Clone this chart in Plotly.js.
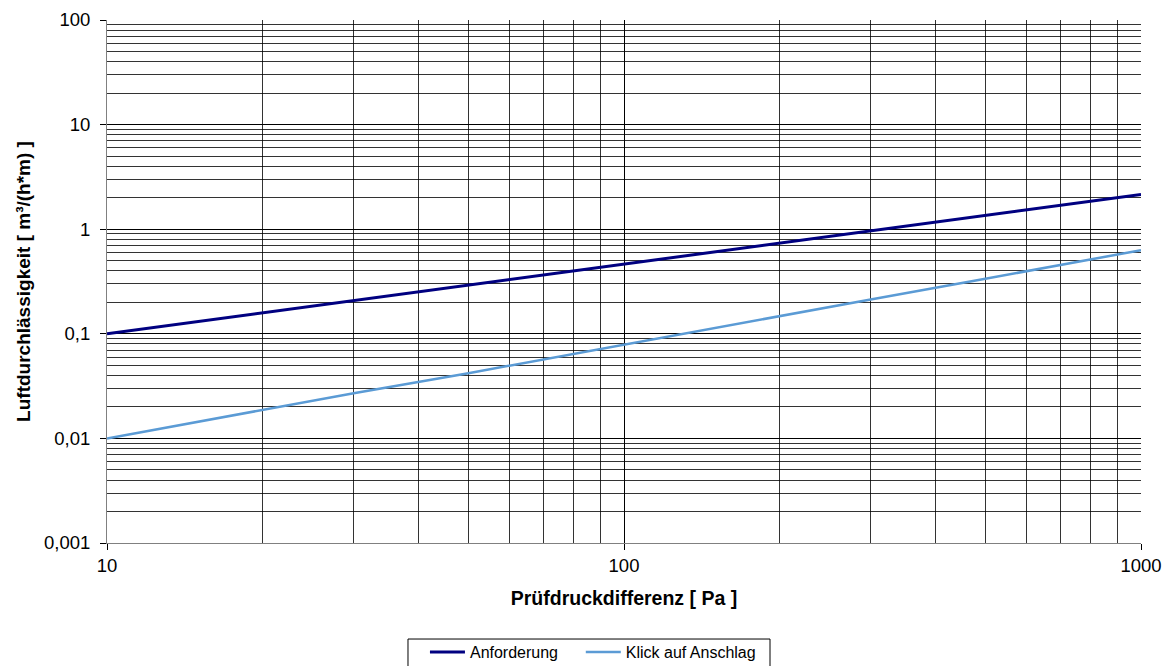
<!DOCTYPE html>
<html>
<head>
<meta charset="utf-8">
<script src="https://cdn.plot.ly/plotly-3.0.1.min.js"></script>
<style>html,body{margin:0;padding:0;background:#fff;}#chart{width:1168px;height:666px;}</style>
</head>
<body>
<div id="chart"></div>
<script>
const pressure = [10, 20, 30, 50, 100, 200, 300, 500, 1000];
const anforderung = [0.1, 0.159, 0.208, 0.292, 0.464, 0.737, 0.965, 1.36, 2.15];
const klick = [0.01, 0.0187, 0.027, 0.042, 0.079, 0.148, 0.213, 0.336, 0.63];
const seriesNames = ['Anforderung', 'Klick auf Anschlag'];
const yTickVals = [0.001, 0.01, 0.1, 1, 10, 100];
const yTickText = ['0,001', '0,01', '0,1', '1', '10', '100'];
const xTickVals = [10, 100, 1000];
const xTickText = ['10', '100', '1000'];

const fam = 'Liberation Sans, Arial, sans-serif';
const pad = '\u00a0\u00a0\u00a0\u00a0';

const traces = [
  {x: pressure, y: anforderung, type: 'scatter', mode: 'lines', name: seriesNames[0] + pad,
   line: {color: '#000080', width: 3}},
  {x: pressure, y: klick, type: 'scatter', mode: 'lines', name: seriesNames[1],
   line: {color: '#5b9bd5', width: 2.5}}
];

const layout = {
  width: 1168, height: 666,
  margin: {l: 107, r: 27, t: 20, b: 123, autoexpand: false},
  paper_bgcolor: '#fff', plot_bgcolor: '#fff',
  font: {family: fam, size: 17, color: '#000'},
  separators: ',.',
  showlegend: true,
  legend: {orientation: 'h', xref: 'paper', x: 0.3075, xanchor: 'left',
           yref: 'container', y: 0.0465, yanchor: 'top',
           borderwidth: 0, bgcolor: 'rgba(0,0,0,0)', font: {family: fam, size: 16, color: '#000'},
           traceorder: 'normal', itemwidth: 35},
  shapes: [{type: 'rect', xref: 'paper', yref: 'paper', x0: 0.2911, x1: 0.6412, y0: -0.262, y1: -0.1836,
            line: {color: '#000', width: 1}, fillcolor: 'rgba(0,0,0,0)', layer: 'below'}],
  xaxis: {
    type: 'log', range: [1, 3], automargin: false,
    tickvals: xTickVals, ticktext: xTickText,
    ticks: 'outside', ticklen: 6, tickcolor: '#000',
    showline: true, linecolor: '#808080', linewidth: 1, mirror: false,
    showgrid: true, gridcolor: '#000', gridwidth: 1,
    minor: {dtick: 'D1', showgrid: true, gridcolor: '#000', gridwidth: 0.8, ticks: ''},
    zeroline: false,
    tickfont: {family: fam, size: 18.5, color: '#000'},
    title: {text: 'Prüfdruckdifferenz [ Pa ]', font: {family: fam, size: 19.5, color: '#000', weight: 'bold'}, standoff: 16}
  },
  yaxis: {
    type: 'log', range: [-3, 2], automargin: false,
    tickvals: yTickVals, ticktext: yTickText,
    ticks: 'outside', ticklen: 6, tickcolor: '#000', ticklabelstandoff: 6,
    showline: true, linecolor: '#808080', linewidth: 1,
    showgrid: true, gridcolor: '#000', gridwidth: 1,
    minor: {dtick: 'D1', showgrid: true, gridcolor: '#000', gridwidth: 0.8, ticks: ''},
    zeroline: false,
    tickfont: {family: fam, size: 18.5, color: '#000'},
    title: {text: 'Luftdurchlässigkeit [ m³/(h*m) ]', font: {family: fam, size: 19, color: '#000', weight: 'bold'}, standoff: 8}
  }
};

Plotly.newPlot('chart', traces, layout, {displayModeBar: false, staticPlot: true});
</script>
</body>
</html>
